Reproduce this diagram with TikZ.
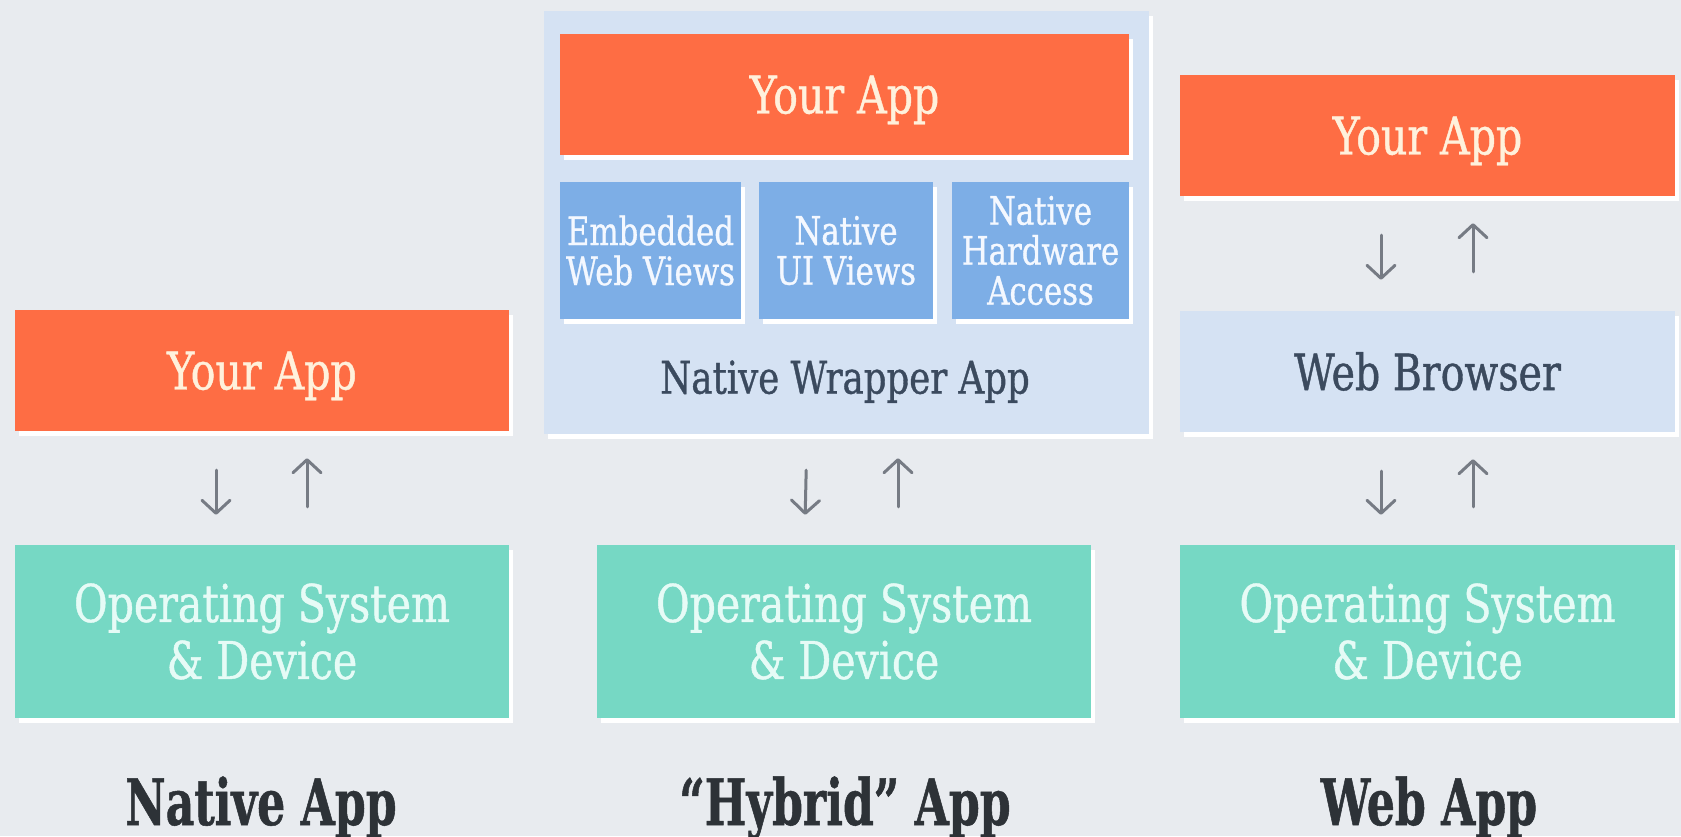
\documentclass[tikz,border=0pt]{standalone}
\usepackage{fontspec}
\setmainfont{DejaVu Serif}[FakeStretch=0.79, FakeBold=0.8, BoldFeatures={FakeStretch=0.69}]
\usetikzlibrary{arrows.meta,shadows}
\definecolor{bgc}{HTML}{E8EBEF}
\definecolor{orng}{HTML}{FE6D44}
\definecolor{orngtxt}{HTML}{FFF1DC}
\definecolor{teal}{HTML}{76D8C4}
\definecolor{tealtxt}{HTML}{E6FBF6}
\definecolor{lblue}{HTML}{D5E2F3}
\definecolor{mblue}{HTML}{7DAEE6}
\definecolor{mbluetxt}{HTML}{F4F8FF}
\definecolor{dtxt}{HTML}{3B4A5E}
\definecolor{lbl}{HTML}{2D3237}
\definecolor{arrc}{HTML}{767B84}
\tikzset{
  x=1pt, y=-1pt,
  box/.style={rectangle, inner sep=0pt, align=center,
    drop shadow={shadow xshift=4pt, shadow yshift=-5pt, fill=white, opacity=1}},
  appbox/.style={box, fill=orng, text=orngtxt, text depth=0pt, font=\fontsize{52}{57}\selectfont},
  osbox/.style={box, fill=teal, text=tealtxt, font=\fontsize{52}{57}\selectfont},
  wrapbox/.style={box, fill=lblue},
  browserbox/.style={box, fill=lblue, text=dtxt, font=\fontsize{50}{57}\selectfont},
  viewbox/.style={box, fill=mblue, text=mbluetxt, font=\fontsize{39}{40}\selectfont},
  caption/.style={anchor=base, text=lbl, font=\fontsize{64}{70}\selectfont\bfseries},
  flow/.style={draw=arrc, line width=3pt, line cap=round,
    -{Straight Barb[length=13pt,width=28pt,line width=3pt,round]}},
}
\begin{document}
\begin{tikzpicture}
\fill[bgc] (0,0) rectangle (1681,836);
\useasboundingbox (0,0) rectangle (1681,836);

% ---- Native App ----
\node[appbox, minimum width=494pt, minimum height=121pt] (ya1) at (262,370.5) {Your App};
\node[osbox, minimum width=494pt, minimum height=173pt] (os1) at (262,631.5) {Operating System\\\& Device};
\draw[flow, shorten <=39pt, shorten >=30pt] ([xshift=-46pt]ya1.south) -- ([xshift=-46pt]os1.north);
\draw[flow, shorten <=38pt, shorten >=27pt] ([xshift=45pt]os1.north) -- ([xshift=45pt]ya1.south);
\node[caption] (cap1) at (261,825) {Native App};

% ---- Hybrid App ----
\node[wrapbox, minimum width=605pt, minimum height=423pt] (wrap) at (846.5,222.5) {};
\node[appbox, minimum width=569pt, minimum height=121pt] (ya2) at (844.5,94.5) {Your App};
\node[viewbox, minimum width=181pt, minimum height=137pt] (emb) at (650.5,250.5) {Embedded\\Web Views};
\node[viewbox, minimum width=174pt, minimum height=137pt] (nui) at (846,250.5) {Native\\UI Views};
\node[viewbox, minimum width=177pt, minimum height=137pt] (nha) at (1040.5,250.5) {Native\\Hardware\\Access};
\node[text=dtxt, text depth=0pt, font=\fontsize{45}{50}\selectfont] (nwa) at (845,377) {Native Wrapper App};
\node[osbox, minimum width=494pt, minimum height=173pt] (os2) at (844,631.5) {Operating System\\\& Device};
\draw[flow, shorten <=36pt, shorten >=30pt] ([xshift=-39.5pt]wrap.south) -- ([xshift=-39.5pt]os2.north);
\draw[flow, shorten <=38pt, shorten >=24pt] ([xshift=54pt]os2.north) -- ([xshift=51.5pt]wrap.south);
\node[caption] (cap2) at (845,825) {“Hybrid” App};

% ---- Web App ----
\node[appbox, minimum width=495pt, minimum height=121pt] (ya3) at (1427.5,135.5) {Your App};
\node[browserbox, minimum width=495pt, minimum height=121pt] (wb) at (1427.5,371.5) {Web Browser};
\node[osbox, minimum width=495pt, minimum height=173pt] (os3) at (1427.5,631.5) {Operating System\\\& Device};
\draw[flow, shorten <=39pt, shorten >=31pt] ([xshift=-46.5pt]ya3.south) -- ([xshift=-46.5pt]wb.north);
\draw[flow, shorten <=39pt, shorten >=27pt] ([xshift=45.5pt]wb.north) -- ([xshift=45.5pt]ya3.south);
\draw[flow, shorten <=39pt, shorten >=30pt] ([xshift=-46.5pt]wb.south) -- ([xshift=-46.5pt]os3.north);
\draw[flow, shorten <=38pt, shorten >=27pt] ([xshift=45.5pt]os3.north) -- ([xshift=45.5pt]wb.south);
\node[caption] (cap3) at (1429,825) {Web App};
\end{tikzpicture}
\end{document}
